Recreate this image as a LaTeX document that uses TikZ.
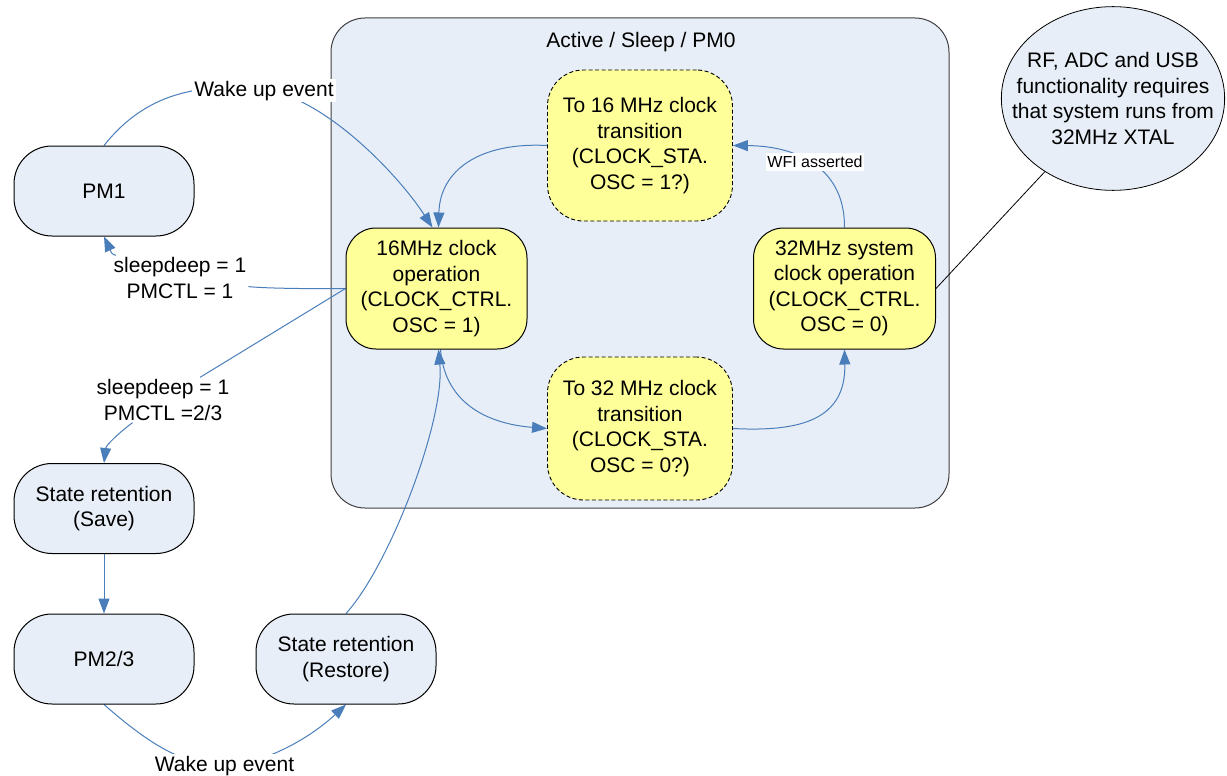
\documentclass[tikz,border=0pt]{standalone}
\usepackage{fontspec}
\setmainfont{Liberation Sans}
\usetikzlibrary{arrows.meta,shapes.geometric}
\definecolor{panel}{RGB}{232,238,247}
\definecolor{stateyellow}{RGB}{255,255,153}
\definecolor{linkblue}{RGB}{74,126,187}
\pgfdeclarelayer{panellayer}
\pgfdeclarelayer{links}
\pgfsetlayers{panellayer,links,main}

\begin{document}
\begin{tikzpicture}[x=1pt,y=-1pt,
  every node/.style={font=\fontsize{21pt}{25.5pt}\selectfont, align=center, inner sep=0pt},
  pmstate/.style={draw=black, line width=1pt, fill=panel, rounded corners=38pt,
                  minimum width=180pt, minimum height=90pt},
  clkstate/.style={draw=black, line width=1pt, fill=stateyellow, rounded corners=30pt,
                   minimum height=121pt},
  transstate/.style={draw=black, line width=0.9pt, dash pattern=on 4pt off 2.5pt,
                     fill=stateyellow, rounded corners=36pt, minimum width=185pt},
  tag/.style={fill=white, inner sep=2pt},
  conn/.style={draw=linkblue, line width=1pt},
  arr/.style={conn, -{Triangle[length=15pt,width=11pt]}},
]
\useasboundingbox (0,0) rectangle (1227,776);

% Active / Sleep / PM0 region
\begin{pgfonlayer}{panellayer}
  \node[draw=black!75, fill=panel, line width=1pt, rounded corners=34pt,
        minimum width=618pt, minimum height=490pt] (pm0) at (640,263) {};
\end{pgfonlayer}
\node[anchor=base] (title) at (641,48) {Active / Sleep / PM0};

% low power states
\node[pmstate] (pm1)  at (104,191)   {PM1};
\node[pmstate] (save) at (104,508.5) {State retention\\(Save)};
\node[pmstate] (pm23) at (104,659)   {PM2/3};
\node[pmstate] (rest) at (346,659)   {State retention\\(Restore)};

% clock states
\node[clkstate, minimum width=181pt] (c16) at (436.5,288.5)
  {16MHz clock\\operation\\(CLOCK\_CTRL.\\OSC = 1)};
\node[clkstate, minimum width=182pt] (c32) at (844.5,288.5)
  {32MHz system\\clock operation\\(CLOCK\_CTRL.\\OSC = 0)};
\node[transstate, minimum height=151pt] (to16) at (640,145.5)
  {To 16 MHz clock\\transition\\(CLOCK\_STA.\\OSC = 1?)};
\node[transstate, minimum height=143pt] (to32) at (640,428.5)
  {To 32 MHz clock\\transition\\(CLOCK\_STA.\\OSC = 0?)};

% note (ellipse kept tight around its text)
\node[ellipse, draw=black, line width=0.8pt, fill=panel,
      inner xsep=-22pt, inner ysep=19pt] (note) at (1113,98.5)
  {RF, ADC and USB\\functionality requires\\that system runs from\\32MHz XTAL};

% transition labels
\node[tag, anchor=base] (wk1) at (264,96) {Wake up event};
\node[tag, anchor=base] (wk2) at (224.5,771) {Wake up event};
\node[tag] (lbl1) at (180,278) {sleepdeep = 1\\PMCTL = 1};
\node[tag] (lbl2) at (163,400) {sleepdeep = 1\\PMCTL =2/3};
\node[tag, font=\fontsize{16pt}{19pt}\selectfont, inner xsep=1pt, inner ysep=3pt]
  (wfi) at (815,162) {WFI asserted};

% transitions
\begin{pgfonlayer}{links}
  \draw[arr] (pm1.north) .. controls (140,100) and (190,80) .. (wk1.center)
             .. controls (320,95) and (395,170) .. ([xshift=-4pt]c16.north);
  \draw[conn] (c16.west) .. controls (300,289) and (260,288) .. (lbl1);
  \draw[arr] (lbl1) .. controls (112,254) .. (pm1.south);
  \draw[conn] (c16.west) -- (lbl2);
  \draw[arr] (lbl2) .. controls (120,432) and (106,445) .. (save.north);
  \draw[arr] (save) -- (pm23);
  \draw[arr] (pm23.south) .. controls (150,745) and (185,766) .. (wk2.center)
             .. controls (265,764) and (310,738) .. (rest.south);
  \draw[arr] (rest.north) .. controls (390,565) and (445,420) .. ([xshift=2pt]c16.south);
  \draw[arr] ([xshift=4pt]c16.south) .. controls (445,405) and (490,424) .. (to32.west);
  \draw[arr] (to32.east) .. controls (800,432) and (846,420) .. (c32.south);
  \draw[arr] (c32.north) .. controls (845,170) and (800,146) .. (to16.east);
  \draw[arr] (to16.west) .. controls (480,142) and (440,170) .. ([xshift=2pt]c16.north);
  \draw[black, line width=0.8pt] (c32.east) -- (note);
\end{pgfonlayer}
\end{tikzpicture}
\end{document}
